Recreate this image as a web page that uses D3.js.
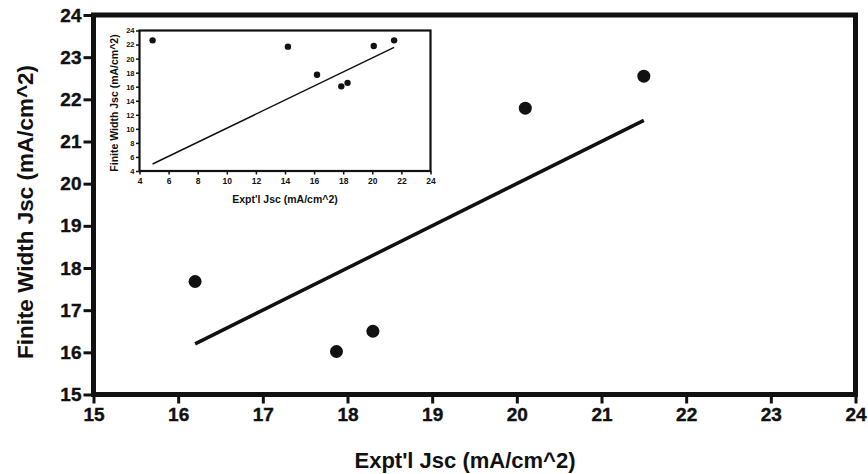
<!DOCTYPE html>
<html>
<head>
<meta charset="utf-8">
<script src="https://cdn.jsdelivr.net/npm/d3@7"></script>
<style>
  html, body { margin: 0; padding: 0; background: #fff; }
  svg { display: block; }
  text { font-family: "Liberation Sans", Arial, sans-serif; font-weight: bold; fill: #111; }
</style>
</head>
<body>
<svg id="chart" width="868" height="474"></svg>
<script>
// ---- data ----
const mainX = [16.2, 17.87, 18.3, 20.1, 21.5];
const mainY = [17.68, 16.02, 16.5, 21.79, 22.55];
const mainFitX = [16.2, 21.5];
const mainFitY = [16.2, 21.5];
const mainTicks = [15, 16, 17, 18, 19, 20, 21, 22, 23, 24];

const insetX = [4.9, 14.2, 16.2, 17.87, 18.3, 20.1, 21.5];
const insetY = [22.6, 21.7, 17.7, 16.05, 16.55, 21.8, 22.6];
const insetFitX = [4.9, 21.5];
const insetFitY = [5.0, 21.6];
const insetTicks = [4, 6, 8, 10, 12, 14, 16, 18, 20, 22, 24];

const xTitle = "Expt'l Jsc (mA/cm^2)";
const yTitle = "Finite Width Jsc (mA/cm^2)";

const svg = d3.select("#chart");

// ---- main plot ----
const mx = d3.scaleLinear().domain([15, 24]).range([93.5, 855.5]);
const my = d3.scaleLinear().domain([15, 24]).range([394.5, 15]);

const gx = svg.append("g").attr("transform", `translate(0,${my(15)})`)
  .call(d3.axisBottom(mx).tickValues(mainTicks).tickSize(9).tickSizeOuter(0).tickPadding(4.5).tickFormat(d3.format("d")));
gx.select(".domain").remove();
gx.selectAll(".tick line").attr("stroke", "#111").attr("stroke-width", 3);
gx.selectAll(".tick text").style("font-size", "19px").attr("fill", "#111")
  .attr("stroke", "#111").attr("stroke-width", 0.4);

const gy = svg.append("g").attr("transform", `translate(${mx(15)},0)`)
  .call(d3.axisLeft(my).tickValues(mainTicks).tickSize(10).tickSizeOuter(0).tickPadding(2).tickFormat(d3.format("d")));
gy.select(".domain").remove();
gy.selectAll(".tick line").attr("stroke", "#111").attr("stroke-width", 3);
gy.selectAll(".tick text").style("font-size", "19px").attr("fill", "#111")
  .attr("stroke", "#111").attr("stroke-width", 0.4);

svg.append("rect")
  .attr("x", mx(15)).attr("y", my(24))
  .attr("width", mx(24) - mx(15)).attr("height", my(15) - my(24))
  .attr("fill", "none").attr("stroke", "#111").attr("stroke-width", 5);

svg.append("line")
  .attr("x1", mx(mainFitX[0])).attr("y1", my(mainFitY[0]))
  .attr("x2", mx(mainFitX[1])).attr("y2", my(mainFitY[1]))
  .attr("stroke", "#111").attr("stroke-width", 3.5);

svg.append("g").selectAll("circle").data(mainX).join("circle")
  .attr("cx", d => mx(d)).attr("cy", (d, i) => my(mainY[i]))
  .attr("r", 6.5).attr("fill", "#111");

svg.append("text").attr("x", 465).attr("y", 468).attr("text-anchor", "middle")
  .style("font-size", "22px").text(xTitle);
svg.append("text").attr("transform", "translate(33,212) rotate(-90)").attr("text-anchor", "middle")
  .style("font-size", "22.5px").text(yTitle);

// ---- inset ----
const ix = d3.scaleLinear().domain([4, 24]).range([139.5, 430.5]);
const iy = d3.scaleLinear().domain([4, 24]).range([171, 30.5]);

svg.append("rect")
  .attr("x", ix(4)).attr("y", iy(24))
  .attr("width", ix(24) - ix(4)).attr("height", iy(4) - iy(24))
  .attr("fill", "#fff");

const igx = svg.append("g").attr("transform", `translate(0,${iy(4)})`)
  .call(d3.axisBottom(ix).tickValues(insetTicks).tickSize(3.5).tickSizeOuter(0).tickPadding(3.5).tickFormat(d3.format("d")));
igx.select(".domain").remove();
igx.selectAll(".tick line").attr("stroke", "#111").attr("stroke-width", 1.5);
igx.selectAll(".tick text").style("font-size", "8.5px").attr("fill", "#111");

const igy = svg.append("g").attr("transform", `translate(${ix(4)},0)`)
  .call(d3.axisLeft(iy).tickValues(insetTicks).tickSize(3.5).tickSizeOuter(0).tickPadding(1.5).tickFormat(d3.format("d")));
igy.select(".domain").remove();
igy.selectAll(".tick line").attr("stroke", "#111").attr("stroke-width", 1.5);
igy.selectAll(".tick text").style("font-size", "7.5px").attr("fill", "#111");

svg.append("rect")
  .attr("x", ix(4)).attr("y", iy(24))
  .attr("width", ix(24) - ix(4)).attr("height", iy(4) - iy(24))
  .attr("fill", "none").attr("stroke", "#111").attr("stroke-width", 2.2);

svg.append("line")
  .attr("x1", ix(insetFitX[0])).attr("y1", iy(insetFitY[0]))
  .attr("x2", ix(insetFitX[1])).attr("y2", iy(insetFitY[1]))
  .attr("stroke", "#111").attr("stroke-width", 1.5);

svg.append("g").selectAll("circle").data(insetX).join("circle")
  .attr("cx", d => ix(d)).attr("cy", (d, i) => iy(insetY[i]))
  .attr("r", 3.2).attr("fill", "#111");

svg.append("text").attr("x", 285).attr("y", 203).attr("text-anchor", "middle")
  .style("font-size", "10.5px").text(xTitle);
svg.append("text").attr("transform", "translate(118,103) rotate(-90)").attr("text-anchor", "middle")
  .style("font-size", "10.5px").text(yTitle);
</script>
</body>
</html>
